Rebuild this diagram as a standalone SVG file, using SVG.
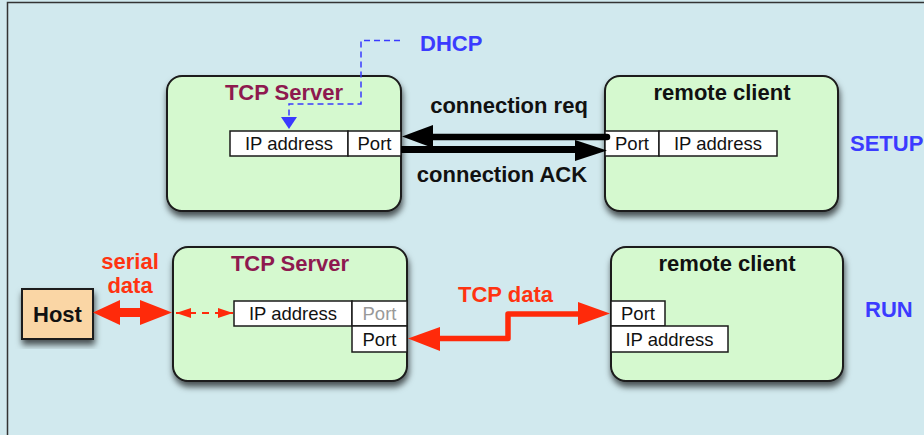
<svg xmlns="http://www.w3.org/2000/svg" width="924" height="435" viewBox="0 0 924 435">
  <defs>
    <filter id="shadow" x="-10%" y="-10%" width="125%" height="130%">
      <feDropShadow dx="1" dy="5" stdDeviation="3" flood-color="#000" flood-opacity="0.65"/>
    </filter>
    <marker id="dhcpHead" viewBox="0 0 12 16" refX="12" refY="8" markerWidth="12" markerHeight="16" markerUnits="userSpaceOnUse" orient="auto">
      <path d="M0,0 L12,8 L0,16 Z" fill="#3a3aff"/>
    </marker>
    <marker id="smallRed" viewBox="0 0 15 10" refX="15" refY="5" markerWidth="15" markerHeight="10" markerUnits="userSpaceOnUse" orient="auto-start-reverse">
      <path d="M0,0 L15,5 L0,10 Z" fill="#ff2a0a"/>
    </marker>
  </defs>
  <style>
    .node { fill: #d5f9cf; stroke: #1a1a1a; stroke-width: 2; }
    .field { fill: #ffffff; stroke: #1a1a1a; stroke-width: 1.5; }
    .title { font-family: "Liberation Sans", Arial, sans-serif; font-weight: bold; font-size: 22px; text-anchor: middle; }
    .srv { fill: #8e1a4f; }
    .cli { fill: #111; }
    .ftxt { font-family: "Liberation Sans", Arial, sans-serif; font-size: 18.5px; fill: #111; text-anchor: middle; }
    .lbl { font-family: "Liberation Sans", Arial, sans-serif; font-weight: bold; font-size: 22px; }
    .blue { fill: #3b3bff; }
    .red { fill: #ff3311; }
    .black { fill: #111; }
  </style>

  <!-- background panel -->
  <rect x="0" y="0" width="924" height="435" fill="#d1e9ee"/>
  <path d="M7.5,435 V2.5 H924" fill="none" stroke="#333" stroke-width="1.5"/>

  <!-- SETUP phase -->
  <g id="setup-server">
    <rect class="node" x="167" y="76" width="234" height="135" rx="15" filter="url(#shadow)"/>
    <text class="title srv" x="284" y="100">TCP Server</text>
    <rect class="field" x="230" y="131" width="118" height="25"/>
    <rect class="field" x="348" y="131" width="53" height="25"/>
    <text class="ftxt" x="289" y="150">IP address</text>
    <text class="ftxt" x="374.5" y="150">Port</text>
  </g>

  <g id="setup-client">
    <rect class="node" x="605" y="76" width="233" height="135" rx="15" filter="url(#shadow)"/>
    <text class="title cli" x="722" y="100">remote client</text>
    <rect class="field" x="605" y="131" width="54" height="25"/>
    <rect class="field" x="659" y="131" width="118" height="25"/>
    <text class="ftxt" x="632" y="150">Port</text>
    <text class="ftxt" x="718" y="150">IP address</text>
  </g>

  <!-- RUN phase -->
  <g id="host">
    <rect x="22" y="289" width="71" height="50" fill="#fad6a5" stroke="#1a1a1a" stroke-width="2" filter="url(#shadow)"/>
    <text class="title" x="57.5" y="322" fill="#111">Host</text>
  </g>

  <g id="run-server">
    <rect class="node" x="173" y="247" width="234" height="134" rx="15" filter="url(#shadow)"/>
    <text class="title srv" x="290" y="271">TCP Server</text>
    <rect class="field" x="234" y="301" width="118" height="25"/>
    <rect class="field" x="352" y="301" width="55" height="25"/>
    <rect class="field" x="352" y="326" width="55" height="26"/>
    <text class="ftxt" x="293" y="320">IP address</text>
    <text class="ftxt" x="379.5" y="320" style="fill:#999">Port</text>
    <text class="ftxt" x="379.5" y="346">Port</text>
  </g>

  <g id="run-client">
    <rect class="node" x="611" y="247" width="232" height="134" rx="15" filter="url(#shadow)"/>
    <text class="title cli" x="727" y="271">remote client</text>
    <rect class="field" x="611" y="301" width="54" height="25"/>
    <rect class="field" x="611" y="326" width="117" height="26"/>
    <text class="ftxt" x="638" y="320">Port</text>
    <text class="ftxt" x="669.5" y="346">IP address</text>
  </g>

  <!-- connectors -->
  <g id="connectors">
    <!-- DHCP assignment -->
    <path d="M400,40.5 H361 V104 H289 V129" fill="none" stroke="#3a3aff" stroke-width="1.5" stroke-dasharray="6,4" marker-end="url(#dhcpHead)"/>

    <!-- connection req (client to server) -->
    <path d="M607,137 H430" fill="none" stroke="#000" stroke-width="6.5" stroke-linecap="round"/>
    <path d="M402,136.5 L433,125 L433,148 Z" fill="#000"/>
    <!-- connection ACK (server to client) -->
    <path d="M401,149.5 H578" fill="none" stroke="#000" stroke-width="7"/>
    <path d="M607,150.5 L575,140 L575,161 Z" fill="#000"/>

    <!-- serial data between host and server -->
    <path d="M115,312.5 H145" fill="none" stroke="#ff2a0a" stroke-width="9"/>
    <path d="M93,312.5 L120,300 L120,325 Z" fill="#ff2a0a"/>
    <path d="M172,312.5 L140,300 L140,325 Z" fill="#ff2a0a"/>
    <path d="M176,313 H233" fill="none" stroke="#ff2a0a" stroke-width="2" stroke-dasharray="7,6" marker-start="url(#smallRed)" marker-end="url(#smallRed)"/>

    <!-- TCP data between server and client -->
    <path d="M436,338.5 H508 V314 H582" fill="none" stroke="#ff2a0a" stroke-width="5.5" stroke-linejoin="round"/>
    <path d="M408,338.5 L440,327 L440,351 Z" fill="#ff2a0a"/>
    <path d="M610,313.5 L578,302 L578,325 Z" fill="#ff2a0a"/>
  </g>

  <!-- labels -->
  <g id="labels">
    <text class="lbl blue" x="420" y="51">DHCP</text>
    <text class="lbl black" x="509" y="113" text-anchor="middle">connection req</text>
    <text class="lbl black" x="502" y="182" text-anchor="middle">connection ACK</text>
    <text class="lbl blue" x="850" y="151">SETUP</text>
    <text class="lbl red" x="130" y="269" text-anchor="middle">serial</text>
    <text class="lbl red" x="130" y="293" text-anchor="middle">data</text>
    <text class="lbl red" x="505.5" y="302" text-anchor="middle">TCP data</text>
    <text class="lbl blue" x="865" y="317">RUN</text>
  </g>
</svg>
